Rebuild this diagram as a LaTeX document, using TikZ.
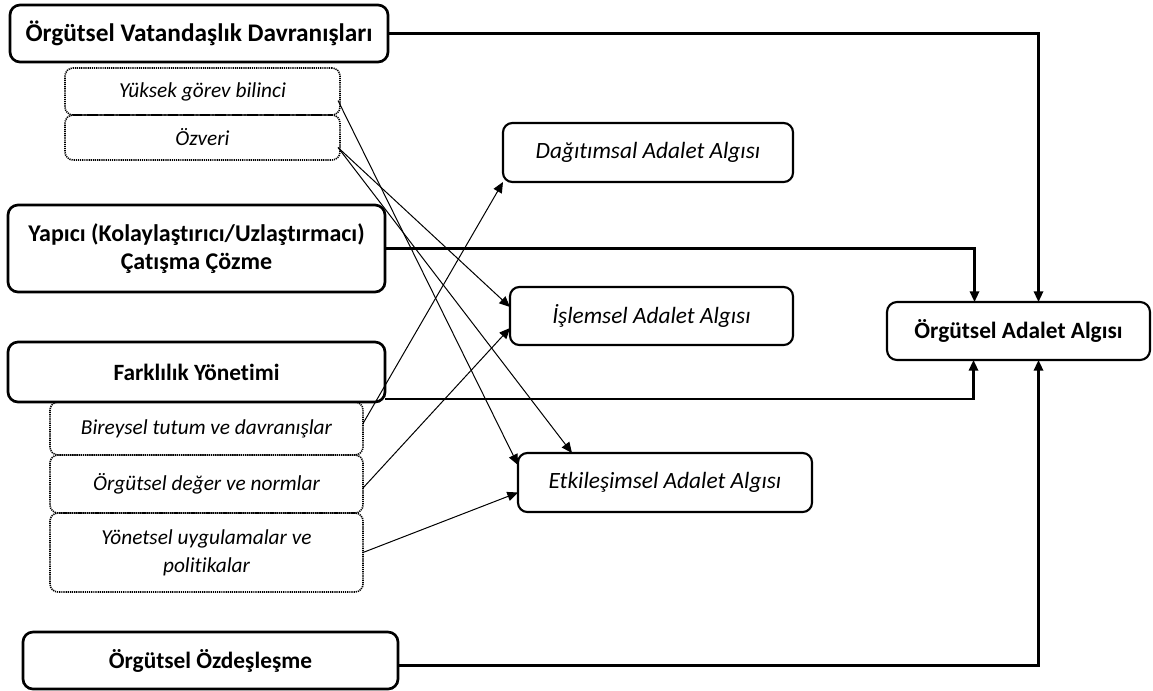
\documentclass[tikz,border=0pt]{standalone}
\usepackage{fontspec}
\setmainfont{Carlito}[Ligatures=NoCommon]
\usepackage{tikz}
\usetikzlibrary{calc, positioning, arrows.meta}

\begin{document}
\begin{tikzpicture}[x=0.75pt, y=-0.75pt, >={Triangle[length=8pt,width=7pt]},
    mainbox/.style={draw, line width=2pt, rounded corners=7.5pt, inner sep=0pt, outer sep=0pt,
      align=center, font=\fontsize{17.5}{20}\selectfont\bfseries},
    subbox/.style={draw, line width=1.2pt, dash pattern=on 0.9pt off 0.7pt, rounded corners=6pt,
      inner sep=0pt, outer sep=0pt, align=center, minimum width=206.25pt,
      font=\fontsize{16}{21}\selectfont\itshape},
    dimbox/.style={draw, line width=1.6pt, rounded corners=7pt, inner sep=0pt, outer sep=0pt,
      font=\fontsize{17.5}{20}\selectfont\itshape},
    link/.style={->, line width=1.6pt},
    thin link/.style={->, line width=0.75pt}]
  \useasboundingbox (0,0) rectangle (1153,690);
  % predictors on the left
  \node[mainbox, minimum width=283.5pt, minimum height=42.75pt, font=\fontsize{19}{20}\selectfont\bfseries] (ovd) at (199,33.5) {Örgütsel Vatandaşlık Davranışları};
  \node[subbox, minimum height=35.25pt] (yuksek) at (202.5,91.5) {Yüksek görev bilinci};
  \node[subbox, minimum height=33.75pt] (ozveri) at (202.5,137.5) {Özveri};
  \node[mainbox, minimum width=282.75pt, minimum height=65.25pt, font=\fontsize{18}{20.5}\selectfont\bfseries] (yapici) at (196.5,248.5) {Yapıcı (Kolaylaştırıcı/Uzlaştırmacı)\\Çatışma Çözme};
  \node[mainbox, minimum width=282.75pt, minimum height=45pt] (farklilik) at (196.5,372) {Farklılık Yönetimi};
  \node[subbox, minimum width=234.75pt, minimum height=39.75pt] (bireysel) at (206.5,428.5) {Bireysel tutum ve davranışlar};
  \node[subbox, minimum width=234.75pt, minimum height=43.5pt] (deger) at (206.5,484) {Örgütsel değer ve normlar};
  \node[subbox, minimum width=234.75pt, minimum height=59.25pt] (yonetsel) at (206.5,552.5) {Yönetsel uygulamalar ve\\politikalar};
  \node[mainbox, minimum width=281.25pt, minimum height=42.75pt] (ozdes) at (210.5,660.5) {Örgütsel Özdeşleşme};
  % justice dimensions
  \node[dimbox, minimum width=217.5pt, minimum height=44.25pt] (dagitim) at (648,152.5) {Dağıtımsal Adalet Algısı};
  \node[dimbox, minimum width=212.25pt, minimum height=43.5pt] (islem) at (651.5,316) {İşlemsel Adalet Algısı};
  \node[dimbox, minimum width=220.5pt, minimum height=44.25pt] (etkilesim) at (665,482.5) {Etkileşimsel Adalet Algısı};
  \node[mainbox, line width=1.6pt, minimum width=197.25pt, minimum height=43.5pt] (adalet) at (1018.5,331) {Örgütsel Adalet Algısı};
  % elbow links into the outcome
  \draw[link] (ovd.east) -| ($(adalet.north)+(20,0)$);
  \draw[link] (yapici.east) -| ($(adalet.north)+(-44,0)$);
  \draw[link] ($(farklilik.south east)+(0,-3)$) -| ($(adalet.south)+(-45,0)$);
  \draw[link] ($(ozdes.east)+(0,5)$) -| ($(adalet.south)+(20,0)$);
  % sub-dimension links
  \draw[thin link] ($(yuksek.east)+(-2,9)$) -- ($(etkilesim.north west)+(0,12)$);
  \draw[thin link] ($(ozveri.east)+(-2,10)$) -- ($(islem.west)+(0,-9)$);
  \draw[thin link] ($(ozveri.east)+(-2,10)$) -- ($(etkilesim.north west)+(54,0)$);
  \draw[thin link] ($(bireysel.east)+(0,-5)$) -- (dagitim.south west);
  \draw[thin link] ($(deger.east)+(0,4)$) -- ($(islem.west)+(0,12)$);
  \draw[thin link] (yonetsel.east) -- ($(etkilesim.west)+(0,10)$);
\end{tikzpicture}
\end{document}
